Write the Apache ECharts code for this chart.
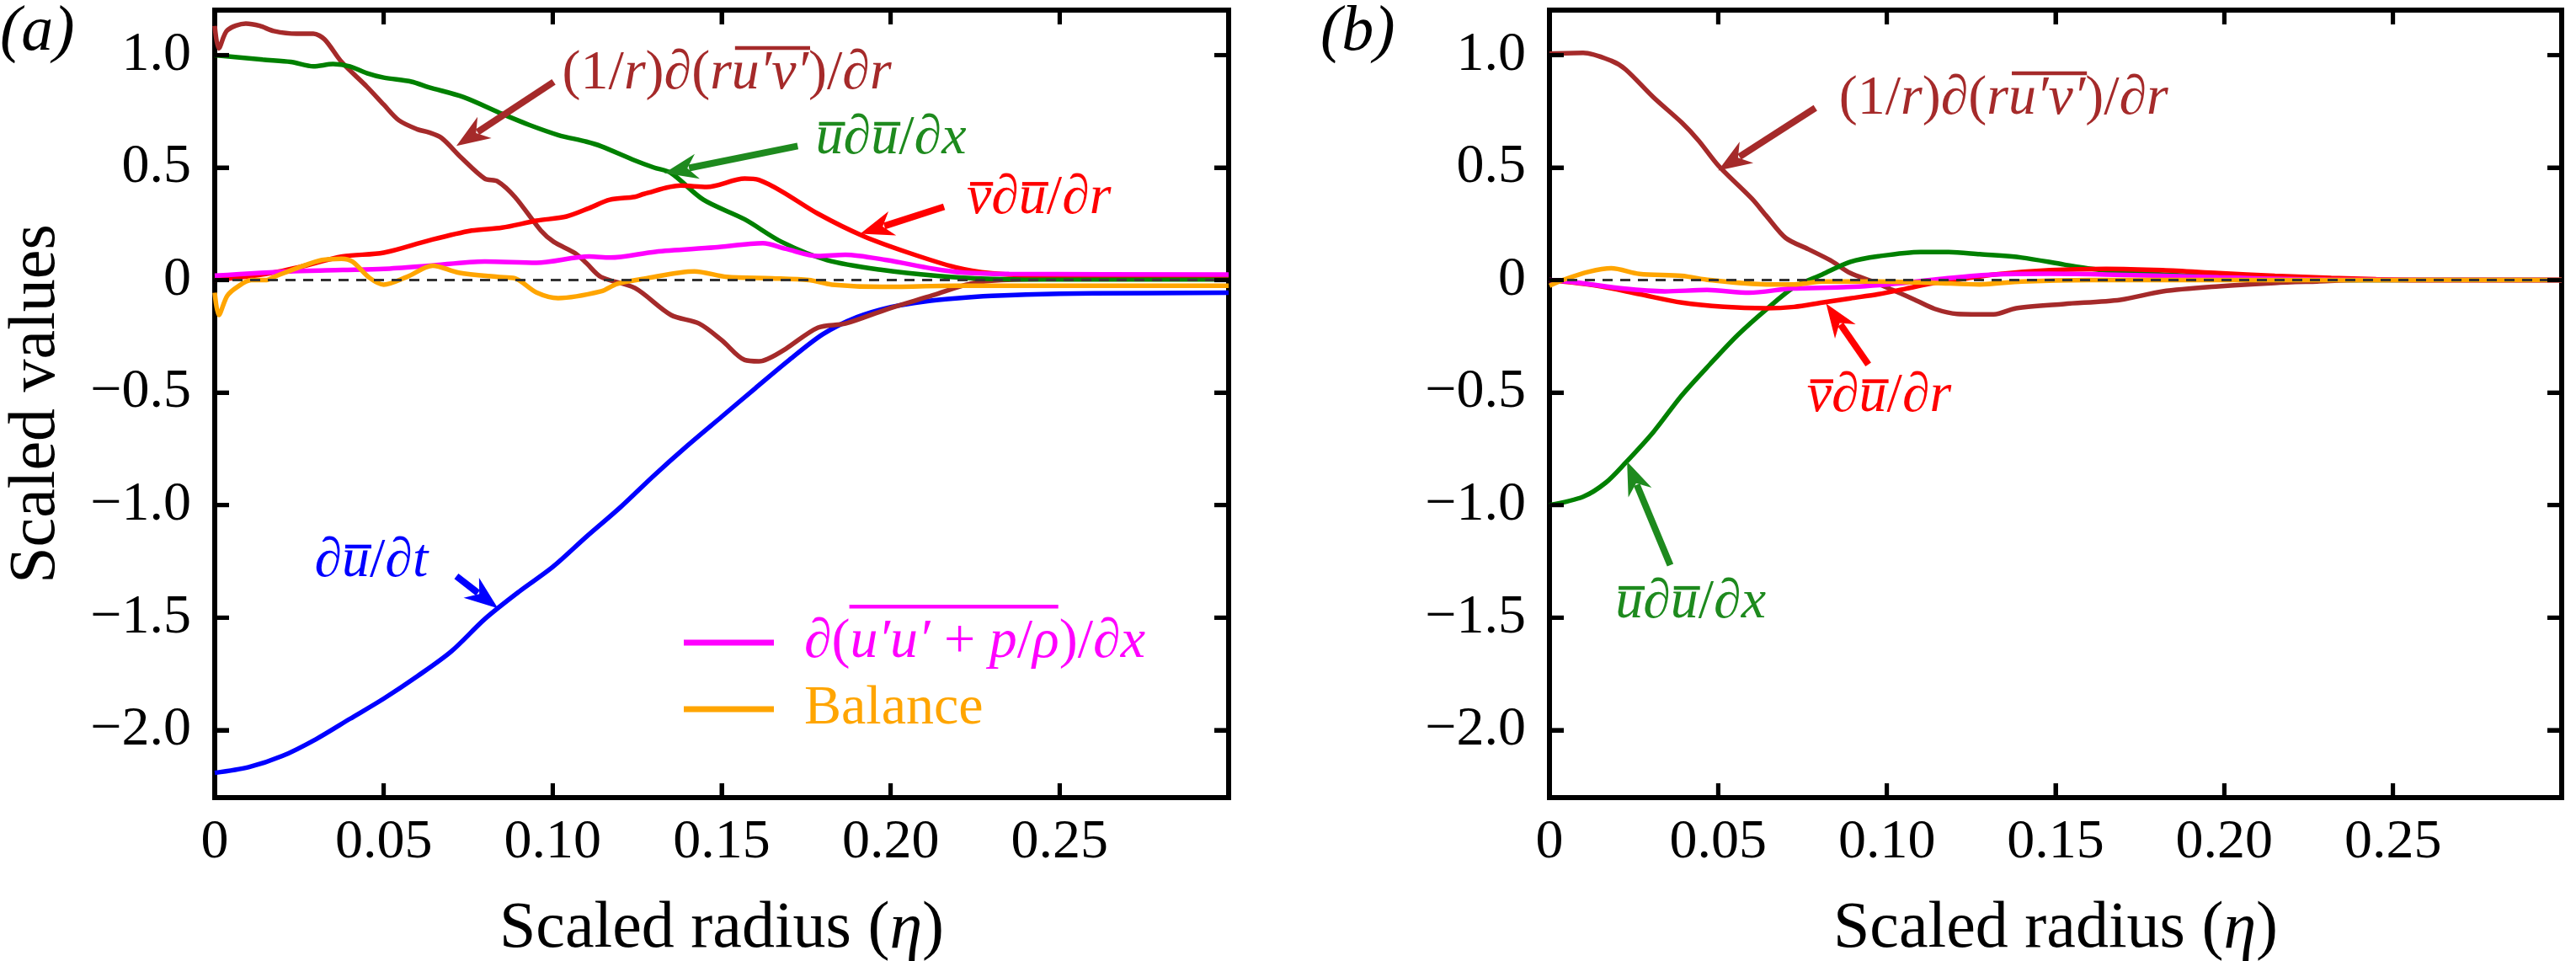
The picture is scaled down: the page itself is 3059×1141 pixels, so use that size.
<!DOCTYPE html>
<html>
<head>
<meta charset="utf-8">
<script src="https://cdn.jsdelivr.net/npm/echarts@6/dist/echarts.min.js"></script>
<style>html,body{margin:0;padding:0;background:#fff}#c{width:3059px;height:1141px}</style>
</head>
<body>
<div id="c"></div>
<script>
// ---------- DATA ----------
// Panel (a)
const etaA_dudt = [0,0.01,0.02,0.03,0.04,0.05,0.06,0.07,0.08,0.09,0.10,0.11,0.12,0.13,0.14,0.15,0.16,0.17,0.18,0.19,0.20,0.21,0.22,0.23,0.24,0.26,0.30];
const valA_dudt = [-2.19,-2.165,-2.115,-2.04,-1.95,-1.86,-1.76,-1.65,-1.505,-1.385,-1.275,-1.14,-1.01,-0.868,-0.734,-0.607,-0.48,-0.355,-0.24,-0.165,-0.12,-0.095,-0.08,-0.07,-0.064,-0.059,-0.056];

const etaA_flux = [0,0.0012,0.0037,0.0092,0.0133,0.0175,0.0242,0.0292,0.0325,0.0375,0.045,0.05,0.0545,0.06,0.0633,0.0671,0.0729,0.0799,0.0837,0.0888,0.0965,0.1003,0.1066,0.110,0.1143,0.1243,0.135,0.1433,0.150,0.1568,0.161,0.1637,0.169,0.1785,0.1866,0.1988,0.2124,0.2232,0.2327,0.25,0.30];
const valA_flux = [1.13,1.03,1.11,1.14,1.13,1.107,1.095,1.095,1.07,0.97,0.86,0.78,0.71,0.67,0.657,0.632,0.545,0.451,0.439,0.370,0.22,0.17,0.12,0.075,0.014,-0.035,-0.155,-0.193,-0.267,-0.355,-0.361,-0.35,-0.305,-0.211,-0.193,-0.13,-0.068,-0.017,0.0,0.006,0.006];

const etaA_adv = [0,0.0142,0.0225,0.0292,0.035,0.04,0.045,0.05,0.0582,0.0633,0.0735,0.085,0.093,0.1016,0.110,0.1143,0.1243,0.130,0.135,0.1446,0.1568,0.1677,0.1812,0.1975,0.2137,0.2284,0.25,0.30];
const valA_adv = [1.0,0.98,0.97,0.95,0.96,0.95,0.92,0.90,0.882,0.857,0.814,0.739,0.69,0.645,0.615,0.595,0.532,0.50,0.476,0.357,0.27,0.17,0.089,0.045,0.019,0.006,0.003,0.003];

const etaA_rad = [0,0.0142,0.025,0.0378,0.05,0.0633,0.076,0.085,0.0952,0.1041,0.1108,0.1169,0.1243,0.127,0.1379,0.1456,0.1568,0.161,0.1677,0.1785,0.192,0.2056,0.2192,0.23,0.24,0.30];
const valA_rad = [0,0.025,0.058,0.105,0.122,0.176,0.22,0.233,0.264,0.283,0.32,0.357,0.37,0.383,0.42,0.414,0.451,0.445,0.395,0.295,0.195,0.12,0.057,0.03,0.022,0.022];

const etaA_str = [0,0.0225,0.0378,0.05,0.0633,0.0799,0.0952,0.1108,0.117,0.1304,0.1479,0.1622,0.169,0.1785,0.1866,0.1988,0.2124,0.2219,0.235,0.30];
const valA_str = [0.02,0.039,0.045,0.05,0.064,0.083,0.077,0.105,0.10,0.126,0.145,0.164,0.139,0.107,0.113,0.089,0.051,0.033,0.027,0.025];

const etaA_bal = [0,0.0012,0.0037,0.0067,0.0108,0.015,0.0183,0.025,0.0317,0.0375,0.0408,0.0458,0.05,0.0568,0.0645,0.0722,0.0837,0.0888,0.0952,0.1016,0.1143,0.119,0.127,0.1419,0.1515,0.165,0.1758,0.1826,0.1975,0.2192,0.30];
const valA_bal = [-0.056,-0.155,-0.07,-0.03,0.0,0.0,0.019,0.057,0.089,0.095,0.082,0.01,-0.02,0.014,0.064,0.033,0.014,0.008,-0.055,-0.08,-0.05,-0.017,0.006,0.039,0.014,0.008,0.0,-0.02,-0.03,-0.025,-0.025];

// Panel (b)
const etaB_flux = [0,0.01,0.0183,0.0225,0.0308,0.0392,0.0442,0.05,0.06,0.0642,0.07,0.0767,0.0833,0.0892,0.0958,0.1017,0.1083,0.1142,0.1208,0.1317,0.1383,0.1525,0.1692,0.1817,0.1983,0.215,0.2275,0.24,0.30];
const valB_flux = [1.006,1.01,0.975,0.937,0.8125,0.70,0.62,0.51,0.362,0.287,0.1875,0.1375,0.0875,0.031,-0.006,-0.044,-0.0875,-0.128,-0.15,-0.152,-0.125,-0.106,-0.0875,-0.05,-0.0275,-0.0125,-0.006,0,0];

const etaB_adv = [0,0.01,0.0167,0.0225,0.0308,0.0392,0.0475,0.0558,0.0642,0.0725,0.0808,0.0892,0.0975,0.11,0.1183,0.1275,0.14,0.1525,0.1608,0.1733,0.19,0.2067,0.225,0.24,0.30];
const valB_adv = [-1.0,-0.9625,-0.9,-0.8125,-0.675,-0.5125,-0.375,-0.244,-0.131,-0.031,0.025,0.081,0.106,0.125,0.125,0.115,0.10,0.069,0.05,0.031,0.019,0.01,0.004,0,0];

const etaB_rad = [0,0.0142,0.0267,0.0392,0.0517,0.0642,0.0725,0.0808,0.0892,0.0975,0.1058,0.1142,0.1225,0.1317,0.1483,0.165,0.1817,0.1983,0.215,0.2317,0.245,0.26,0.30];
const valB_rad = [0,-0.025,-0.0625,-0.10,-0.119,-0.125,-0.119,-0.10,-0.081,-0.0625,-0.0375,-0.0125,0.005,0.025,0.044,0.05,0.044,0.031,0.019,0.01,0.004,0,0];

const etaB_str = [0,0.0092,0.0217,0.0342,0.0467,0.0592,0.0717,0.0883,0.105,0.1175,0.1317,0.1483,0.165,0.1983,0.23,0.30];
const valB_str = [0,-0.0125,-0.0375,-0.05,-0.044,-0.056,-0.0375,-0.031,-0.0125,0.008,0.025,0.028,0.025,0.0125,0.002,0];

const etaB_bal = [0,0.005,0.0117,0.0183,0.0267,0.0392,0.0475,0.0642,0.0725,0.0808,0.0975,0.1142,0.1275,0.14,0.16,0.30];
const valB_bal = [-0.025,0.006,0.0375,0.0525,0.0275,0.019,0.0,-0.019,-0.019,-0.006,-0.006,-0.0125,-0.019,-0.006,0,0];

// Axis ranges, tick values / labels
const X_RANGE = [0, 0.3];
const Y_RANGE = [-2.3, 1.2];
const xLabelVals = [0,0.05,0.10,0.15,0.20,0.25];
const xTickVals = [0.05,0.10,0.15,0.20,0.25];
const yTickVals = [-2.0,-1.5,-1.0,-0.5,0,0.5,1.0];
const panelLabels = ['(a)','(b)'];
const xTitle = 'Scaled radius (';
const yTitle = 'Scaled values';
const NAME_STRESS = '∂(u′u′ + p/ρ)/∂x';
const NAME_BAL = 'Balance';

// ---------- STYLE / LAYOUT ----------
const FONT = '"Liberation Serif", "DejaVu Serif", serif';
const C = {brown:'#A52A2A', green:'#008000', greenTxt:'#1E8A1E', red:'#FF0000', blue:'#0000FF', magenta:'#FF00FF', orange:'#FFA500'};
const NOTE_FS = 66;
const LW = 5.5;
const TICK_LEN = 17, TICK_W = 5;

function zip(xs, ys){ return xs.map((x,i)=>[x, ys[i]]); }

function lineSeries(name, xs, ys, color, gi, extra){
  return Object.assign({
    type:'line', name, xAxisIndex: gi*2, yAxisIndex: gi*2,
    data: zip(xs, ys), symbol:'none', showSymbol:false, smooth:0.3,
    lineStyle:{color, width:LW}, itemStyle:{color}, silent:true
  }, extra || {});
}

// inward ticks on all four sides, drawn through the axis scales
function tickSeries(gi, dim){
  const vals = dim === 'x' ? xTickVals : yTickVals;
  return {
    type:'custom', name:'ticks' + gi + dim, xAxisIndex: gi*2, yAxisIndex: gi*2, silent:true, clip:false, z:10,
    data: vals.map(v => dim === 'x' ? [v, 0] : [0, v]),
    renderItem: (params, api) => {
      const st = {stroke:'#000', lineWidth:TICK_W};
      if (dim === 'x') {
        const v = api.value(0);
        const b = api.coord([v, Y_RANGE[0]]), t = api.coord([v, Y_RANGE[1]]);
        return {type:'group', children:[
          {type:'line', shape:{x1:b[0], y1:b[1], x2:b[0], y2:b[1]-TICK_LEN}, style:st},
          {type:'line', shape:{x1:t[0], y1:t[1], x2:t[0], y2:t[1]+TICK_LEN}, style:st}
        ]};
      }
      const v = api.value(1);
      const l = api.coord([X_RANGE[0], v]), r = api.coord([X_RANGE[1], v]);
      return {type:'group', children:[
        {type:'line', shape:{x1:l[0], y1:l[1], x2:l[0]+TICK_LEN, y2:l[1]}, style:st},
        {type:'line', shape:{x1:r[0], y1:r[1], x2:r[0]-TICK_LEN, y2:r[1]}, style:st}
      ]};
    }
  };
}

const zeroLine = {
  silent:true, symbol:['none','none'], label:{show:false},
  lineStyle:{color:'#333', type:[12,9], width:3},
  data:[{yAxis:0}]
};

function frameLine(onZeroIdx){
  return {show:true, onZero:true, onZeroAxisIndex:onZeroIdx, lineStyle:{color:'#000', width:6, cap:'square'}};
}

// xAxis indices: 0 g0 bottom, 1 g0 top, 2 g1 bottom, 3 g1 top, 4 g0 helper, 5 g1 helper
// yAxis indices: 0 g0 left, 1 g0 right, 2 g1 left, 3 g1 right, 4/5 g0 helpers, 6/7 g1 helpers
function makeX(gi, top){
  const base = {
    type:'value', gridIndex:gi, min:X_RANGE[0], max:X_RANGE[1],
    position: top ? 'top' : 'bottom',
    axisLine:frameLine(4 + gi*2 + (top ? 1 : 0)), splitLine:{show:false},
    axisTick:{show:true, inside:true, length:TICK_LEN, lineStyle:{color:'#000', width:TICK_W}, customValues:xTickVals},
    axisLabel:{show:!top, customValues:xLabelVals, margin:21, color:'#000', fontFamily:FONT, fontSize:66,
      formatter:v => v===0 ? '0' : v.toFixed(2)}
  };
  if (!top) {
    base.name = xTitle + '{i|η})';
    base.nameLocation = 'middle';
    base.nameGap = 118;
    base.nameTextStyle = {fontFamily:FONT, fontSize:78, color:'#000', rich:{i:{fontFamily:FONT, fontSize:78, fontStyle:'italic', color:'#000'}}};
  }
  return base;
}

function makeY(gi, right){
  const base = {
    type:'value', gridIndex:gi, min:Y_RANGE[0], max:Y_RANGE[1],
    position: right ? 'right' : 'left',
    axisLine:frameLine(right ? 4 + gi : gi*2), splitLine:{show:false},
    axisTick:{show:true, inside:true, length:TICK_LEN, lineStyle:{color:'#000', width:TICK_W}, customValues:yTickVals},
    axisLabel:{show:!right, customValues:yTickVals, margin:28, color:'#000', fontFamily:FONT, fontSize:66, padding:[12,0,0,0],
      formatter:v => v===0 ? '0' : (v<0 ? '\u2212' : '') + Math.abs(v).toFixed(1)}
  };
  if (!right && gi===0) {
    base.name = yTitle;
    base.nameLocation = 'middle';
    base.nameGap = 172;
    base.nameTextStyle = {fontFamily:FONT, fontSize:78, color:'#000'};
  }
  return base;
}

function helper(gi, min, max){
  return {type:'value', gridIndex:gi, min, max, show:false};
}

const LEG_LEFT = 807, LEG_TOP = 725, LEG_LINE_W = 107, LEG_SP = 31;

const option = {
  animation:false,
  backgroundColor:'#fff',
  title: panelLabels.map((t,i)=>({
    text:t, left: i===0 ? 0 : 1568, top:1, padding:0,
    textStyle:{fontFamily:FONT, fontStyle:'italic', fontWeight:'normal', fontSize:76, color:'#000'}
  })),
  grid:[
    {left:255, top:12, width:1204, height:935, outerBoundsMode:'none', containLabel:false},
    {left:1840, top:12, width:1202, height:935, outerBoundsMode:'none', containLabel:false}
  ],
  xAxis:[makeX(0,false), makeX(0,true), makeX(1,false), makeX(1,true), helper(0,-1,0), helper(1,-1,0)],
  yAxis:[makeY(0,false), makeY(0,true), makeY(1,false), makeY(1,true),
         helper(0,0,1), helper(0,-1,0), helper(1,0,1), helper(1,-1,0)],
  legend:{
    left:LEG_LEFT, top:LEG_TOP, orient:'vertical', icon:'rect',
    itemWidth:LEG_LINE_W, itemHeight:7, itemGap:13, selectedMode:false,
    data:[{name:NAME_STRESS}, {name:NAME_BAL}],
    formatter: name => name === NAME_BAL
      ? '{sp| }{on|Balance}'
      : '{sp| }{mn|∂(}{mi|u′u′}{mn| + }{mi|p}{mn|/}{mi|ρ}{mn|)/∂}{mi|x}',
    textStyle:{fontFamily:FONT, fontSize:66, lineHeight:66,
      rich:{
        sp:{width:LEG_SP, fontSize:66, lineHeight:66},
        mn:{color:C.magenta, fontFamily:FONT, fontSize:66, lineHeight:66},
        mi:{color:C.magenta, fontFamily:FONT, fontSize:66, lineHeight:66, fontStyle:'italic'},
        on:{color:C.orange, fontFamily:FONT, fontSize:66, lineHeight:66}
      }}
  },
  series:[
    lineSeries('∂ū/∂t', etaA_dudt, valA_dudt, C.blue, 0, {markLine: zeroLine}),
    lineSeries('(1/r)∂(ru′v′)/∂r', etaA_flux, valA_flux, C.brown, 0),
    lineSeries('ū∂ū/∂x', etaA_adv, valA_adv, C.green, 0),
    lineSeries('v̄∂ū/∂r', etaA_rad, valA_rad, C.red, 0),
    lineSeries(NAME_STRESS, etaA_str, valA_str, C.magenta, 0),
    lineSeries(NAME_BAL, etaA_bal, valA_bal, C.orange, 0),
    lineSeries('(b) (1/r)∂(ru′v′)/∂r', etaB_flux, valB_flux, C.brown, 1, {markLine: zeroLine}),
    lineSeries('(b) ū∂ū/∂x', etaB_adv, valB_adv, C.green, 1),
    lineSeries('(b) v̄∂ū/∂r', etaB_rad, valB_rad, C.red, 1),
    lineSeries('(b) ' + NAME_STRESS, etaB_str, valB_str, C.magenta, 1),
    lineSeries('(b) ' + NAME_BAL, etaB_bal, valB_bal, C.orange, 1),
    tickSeries(0,'x'), tickSeries(0,'y'), tickSeries(1,'x'), tickSeries(1,'y')
  ]
};

const chart = echarts.init(document.getElementById('c'), null, {renderer:'canvas'});
chart.setOption(option);

// ---------- ANNOTATIONS (placed in data coordinates) ----------
const notes = [
  {grid:0, at:[0.1028,0.832], color:C.brown, raise:53,
   segs:[['(1/',0,0],['r',1,0],[')∂(',0,0],['r',1,0],['u′v′',1,1],[')/∂',0,0],['r',1,0]],
   arrow:[[0.1003,0.881],[0.0715,0.596]]},
  {grid:0, at:[0.1778,0.544], color:C.greenTxt, raise:40,
   segs:[['u',1,1],['∂',0,0],['u',1,1],['/∂',0,0],['x',1,0]],
   arrow:[[0.1725,0.596],[0.133,0.476]]},
  {grid:0, at:[0.2225,0.277], color:C.red, raise:40,
   segs:[['v',1,1],['∂',0,0],['u',1,1],['/∂',0,0],['r',1,0]],
   arrow:[[0.2158,0.326],[0.191,0.206]]},
  {grid:0, at:[0.0295,-1.335], color:C.blue, raise:40,
   segs:[['∂',0,0],['u',1,1],['/∂',0,0],['t',1,0]],
   arrow:[[0.0715,-1.316],[0.0838,-1.459]]},
  {grid:1, at:[0.0858,0.72], color:C.brown, raise:53,
   segs:[['(1/',0,0],['r',1,0],[')∂(',0,0],['r',1,0],['u′v′',1,1],[')/∂',0,0],['r',1,0]],
   arrow:[[0.0788,0.765],[0.05,0.487]]},
  {grid:1, at:[0.0763,-0.60], color:C.red, raise:40,
   segs:[['v',1,1],['∂',0,0],['u',1,1],['/∂',0,0],['r',1,0]],
   arrow:[[0.0945,-0.375],[0.082,-0.105]]},
  {grid:1, at:[0.0195,-1.519], color:C.greenTxt, raise:40,
   segs:[['u',1,1],['∂',0,0],['u',1,1],['/∂',0,0],['x',1,0]],
   arrow:[[0.0358,-1.267],[0.023,-0.806]]}
];

const mctx = document.createElement('canvas').getContext('2d');
function segFont(it, fs){ return (it ? 'italic ' : '') + fs + 'px ' + FONT; }
function textW(t, it, fs){ mctx.font = segFont(it, fs); return mctx.measureText(t).width; }

function arrowEls(gi, from, to, color){
  const [x1,y1] = chart.convertToPixel({gridIndex:gi}, from);
  const [x2,y2] = chart.convertToPixel({gridIndex:gi}, to);
  const dx = x2-x1, dy = y2-y1, L = Math.hypot(dx,dy), ux = dx/L, uy = dy/L;
  const hl = 36, hw = 15;
  const bx = x2 - ux*hl, by = y2 - uy*hl;
  return [
    {type:'line', silent:true, z:60, shape:{x1, y1, x2:bx+ux*6, y2:by+uy*6}, style:{stroke:color, lineWidth:8}},
    {type:'polygon', silent:true, z:60, shape:{points:[[x2,y2],[bx-uy*hw-ux*4, by+ux*hw-uy*4],[bx+ux*8, by+uy*8],[bx+uy*hw-ux*4, by-ux*hw-uy*4]]}, style:{fill:color}}
  ];
}

function noteEls(n){
  const [px, py] = chart.convertToPixel({gridIndex:n.grid}, n.at);
  const els = [];
  let x = px;
  const yMid = py - 0.34*NOTE_FS;
  n.segs.forEach(([t, it, ol]) => {
    const w = textW(t, it, NOTE_FS);
    els.push({type:'text', silent:true, z:60, x, y:yMid,
      style:{text:t, font:segFont(it, NOTE_FS), fill:n.color, align:'left', verticalAlign:'middle', textAlign:'left', textVerticalAlign:'middle'}});
    if (ol) {
      els.push({type:'rect', silent:true, z:60, shape:{x:x + (it ? 4 : 0), y:py - n.raise - 2.5, width:w - 2, height:4.5}, style:{fill:n.color}});
    }
    x += w;
  });
  return els.concat(arrowEls(n.grid, n.arrow[0], n.arrow[1], n.color));
}

let graphics = [];
notes.forEach(n => { graphics = graphics.concat(noteEls(n)); });

// overline over the legend's "u′u′ + p/ρ"
(function(){
  const textStart = LEG_LEFT + LEG_LINE_W + 5 + LEG_SP;
  const w0 = textW('∂(', 0, 66);
  const wOl = textW('u′u′', 1, 66) + textW(' + ', 0, 66) + textW('p', 1, 66) + textW('/', 0, 66) + textW('ρ', 1, 66);
  const yCenter = LEG_TOP + 33;
  graphics.push({type:'rect', silent:true, z:60, shape:{x:textStart + w0 + 4, y:yCenter - 40, width:wOl, height:4.5}, style:{fill:C.magenta}});
})();

chart.setOption({graphic: graphics});
</script>
</body>
</html>
